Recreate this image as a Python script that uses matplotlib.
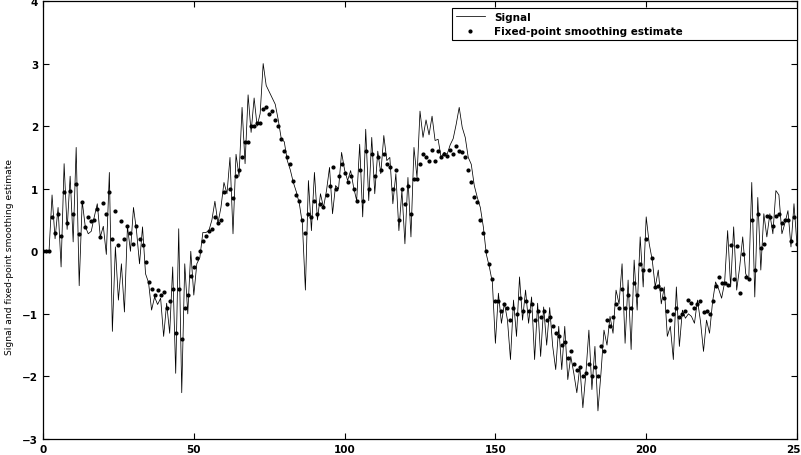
import matplotlib
matplotlib.use("Agg")
import matplotlib.pyplot as plt
import numpy as np

# signal values, one per time step (t = 0 .. 250)
signal = [
    0.0, 0.0, 0.0, 0.9, 0.2, 0.7, -0.25, 1.4, 0.35, 1.2,
    0.15, 1.66, -0.55, 0.8, 0.4, 0.28, 0.32, 0.55, 0.76, 0.23,
    0.4, -0.05, 1.26, -1.28, 0.07, -0.78, -0.2, -0.97, 0.4, 0.0,
    0.7, 0.33, -0.2, 0.39, -0.36, -0.5, -0.94, -0.73, -0.85, -0.75,
    -1.36, -0.83, -1.31, -0.25, -1.95, 0.36, -2.26, -0.2, -1.0, 0.0,
    -0.7, -0.2, -0.1, 0.3, 0.3, 0.33, 0.5, 0.8, 0.45, 0.7,
    1.1, 0.92, 1.5, 0.28, 1.55, 1.2, 2.3, 1.4, 2.5, 1.9,
    2.45, 2.0, 2.2, 3.0, 2.65, 2.55, 2.45, 2.35, 2.1, 1.8,
    1.75, 1.45, 1.3, 1.1, 0.95, 0.76, 0.44, -0.62, 1.13, 0.33,
    1.26, 0.5, 0.92, 0.7, 0.97, 1.34, 0.6, 1.05, 1.0, 1.58,
    1.3, 1.13, 1.29, 1.02, 0.81, 1.71, 0.55, 1.95, 0.81, 1.82,
    0.92, 1.6, 1.24, 1.85, 1.45, 1.5, 0.76, 1.24, 0.33, 0.97,
    0.12, 1.18, 0.23, 1.66, 1.18, 2.24, 1.82, 2.1, 1.86, 2.16,
    1.77, 1.79, 1.5, 1.58, 1.55, 1.7, 1.8, 2.03, 2.3, 1.98,
    1.82, 1.5, 1.39, 1.05, 0.86, 0.7, 0.39, -0.05, -0.25, -0.5,
    -1.47, -0.67, -1.15, -0.83, -1.1, -1.73, -0.78, -1.36, -0.41, -1.1,
    -0.62, -1.15, -0.73, -1.73, -0.83, -1.68, -0.89, -1.5, -0.9, -1.52,
    -1.89, -1.2, -1.89, -1.2, -2.05, -1.68, -1.95, -2.26, -1.84, -2.5,
    -1.95, -1.26, -2.21, -1.52, -2.55, -1.95, -1.26, -1.5, -1.04, -1.31,
    -0.62, -0.84, -0.2, -1.47, -0.46, -1.57, -0.14, -0.94, 0.23, -0.57,
    0.55, 0.12, -0.14, -0.57, -0.3, -0.84, -0.57, -1.36, -1.2, -1.73,
    -0.57, -1.52, -0.94, -1.07, -1.0, -1.04, -1.15, -0.78, -1.12, -1.6,
    -1.1, -1.31, -0.81, -0.49, -0.6, -0.75, -0.5, 0.33, -0.57, 0.39,
    -0.62, -0.25, 0.23, -0.36, -0.46, 1.1, -0.73, 0.86, -0.3, 0.6,
    0.23, 0.6, 0.28, 0.97, 0.9, 0.28, 0.45, 0.65, 0.07, 0.76,
    0.1,
]

# fixed-point smoothing estimate, one per time step
estimate = [
    0.0, 0.0, 0.0, 0.55, 0.3, 0.6, 0.25, 0.94, 0.45, 0.97,
    0.6, 1.08, 0.28, 0.78, 0.39, 0.54, 0.48, 0.5, 0.68, 0.23,
    0.77, 0.6, 0.94, 0.2, 0.64, 0.1, 0.48, 0.2, 0.41, 0.3,
    0.12, 0.4, 0.2, 0.1, -0.17, -0.49, -0.6, -0.7, -0.62, -0.7,
    -0.65, -0.9, -0.8, -0.61, -1.3, -0.6, -1.4, -0.9, -0.7, -0.4,
    -0.25, -0.1, 0.0, 0.17, 0.25, 0.33, 0.35, 0.55, 0.45, 0.5,
    0.95, 0.75, 1.0, 0.85, 1.2, 1.3, 1.5, 1.75, 1.75, 2.0,
    2.0, 2.05, 2.05, 2.27, 2.3, 2.2, 2.25, 2.1, 2.0, 1.8,
    1.6, 1.5, 1.4, 1.13, 0.9, 0.8, 0.5, 0.3, 0.6, 0.55,
    0.8, 0.6, 0.75, 0.7, 0.9, 1.05, 1.35, 1.0, 1.2, 1.4,
    1.25, 1.1, 1.2, 1.0, 0.8, 1.3, 0.8, 1.6, 1.0, 1.55,
    1.2, 1.5, 1.3, 1.55, 1.4, 1.35, 1.0, 1.3, 0.5, 1.0,
    0.75, 1.05, 0.6, 1.15, 1.15, 1.4, 1.55, 1.5, 1.45, 1.62,
    1.45, 1.6, 1.5, 1.55, 1.52, 1.62, 1.55, 1.68, 1.6, 1.58,
    1.5, 1.3, 1.1, 0.86, 0.78, 0.5, 0.3, 0.0, -0.2, -0.45,
    -0.8, -0.8, -0.95, -0.85, -0.9, -1.1, -0.9, -1.0, -0.75, -0.95,
    -0.8, -0.95, -0.85, -1.1, -0.95, -1.05, -0.95, -1.1, -1.05, -1.2,
    -1.3, -1.35, -1.5, -1.45, -1.7, -1.6, -1.8, -1.9, -1.85, -2.0,
    -1.95, -1.8, -2.0, -1.85, -2.0, -1.52, -1.6, -1.1, -1.2, -1.05,
    -0.85, -0.9, -0.6, -0.9, -0.7, -0.9, -0.5, -0.7, -0.2, -0.3,
    0.2, -0.3, -0.1, -0.57, -0.55, -0.6, -0.75, -0.95, -1.1, -1.0,
    -0.9, -1.05, -1.0, -0.95, -0.78, -0.82, -0.9, -0.85, -0.8, -0.97,
    -0.95, -1.0, -0.8, -0.55, -0.41, -0.5, -0.5, -0.54, 0.1, -0.45,
    0.08, -0.67, -0.05, -0.41, -0.45, 0.5, -0.3, 0.6, 0.05, 0.12,
    0.57, 0.55, 0.4, 0.57, 0.6, 0.45, 0.5, 0.5, 0.17, 0.55,
    0.12,
]

t = np.arange(len(signal))

fig = plt.figure(figsize=(8.01, 4.56), dpi=100)
ax = fig.add_axes([43/801, 16/456, 754/801, 438/456])

ax.plot(t, signal, color='black', lw=0.55, label='Signal')
ax.plot(t, estimate, ls='none', marker='.', ms=4, color='black',
        label='Fixed-point smoothing estimate')

ax.set_xlim(0, 250)
ax.set_ylim(-3, 4)
ax.set_xticks([0, 50, 100, 150, 200, 250])
ax.set_yticks([-3, -2, -1, 0, 1, 2, 3, 4])
ax.tick_params(direction='in', length=4, width=0.8, top=True, right=True,
               labelsize=7.5)
for lab in ax.get_xticklabels() + ax.get_yticklabels():
    lab.set_fontweight('bold')
for s in ax.spines.values():
    s.set_linewidth(0.9)

ax.set_ylabel('Signal and fixed-point smoothing estimate', fontsize=6.6)
ax.yaxis.set_label_coords(-0.039, 0.418)

leg = ax.legend(loc='upper left', mode='expand', borderaxespad=0,
                bbox_to_anchor=(0.5424, 0.906, 0.4576, 0.078),
                fancybox=False, framealpha=1, edgecolor='black',
                handlelength=2.8, handletextpad=0.9,
                borderpad=0.35, labelspacing=0.45,
                prop={'weight': 'bold', 'size': 7.5})
leg.get_frame().set_linewidth(0.8)

fig.savefig('out.png', dpi=100)
